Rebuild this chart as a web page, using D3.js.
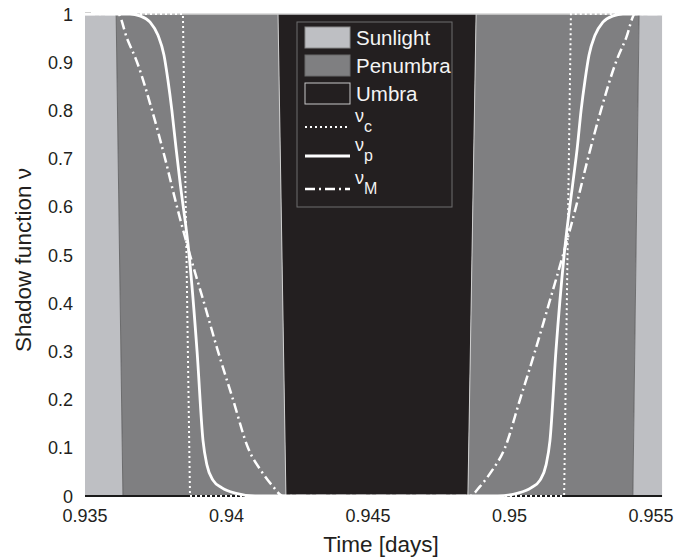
<!DOCTYPE html>
<html>
<head>
<meta charset="utf-8">
<script src="https://cdn.jsdelivr.net/npm/d3@7"></script>
<style>
  body { margin:0; background:#fff; }
  svg text { font-family: "Liberation Sans", Arial, Helvetica, sans-serif; }
</style>
</head>
<body>
<div id="chart"></div>
<script>
// shadow function during an eclipse passage: regions + three models

const xTicks = [0.935, 0.94, 0.945, 0.95, 0.955];
const xTickLabels = ['0.935', '0.94', '0.945', '0.95', '0.955'];
const yTicks = [0, 0.1, 0.2, 0.3, 0.4, 0.5, 0.6, 0.7, 0.8, 0.9, 1];
const yTickLabels = ['0', '0.1', '0.2', '0.3', '0.4', '0.5', '0.6', '0.7', '0.8', '0.9', '1'];
const xLimits = [0.935, 0.95539];

// region boundaries (time at nu=1 and at nu=0; edges lean slightly)
const regionNames = ['Sunlight', 'Penumbra', 'Umbra', 'Penumbra', 'Sunlight'];
const boundTop = [0.935, 0.93610, 0.94182, 0.94882, 0.95458, 0.95539];
const boundBottom = [0.935, 0.93634, 0.94210, 0.94853, 0.95436, 0.95539];

// nu_c : conical model (step)
const nuC = [
  [0.935, 1], [0.93846, 1], [0.93871, 0], [0.95193, 0], [0.95217, 1], [0.95539, 1]
];

// nu_p : solid curve
const nuP = [
  [0.935, 1], [0.93659, 1], [0.93694, 0.996], [0.93730, 0.983], [0.93758, 0.956],
  [0.93779, 0.915], [0.93793, 0.863], [0.93807, 0.8], [0.93822, 0.72], [0.93836, 0.65],
  [0.93868, 0.5], [0.93896, 0.3], [0.93917, 0.115], [0.93931, 0.064], [0.93952, 0.033],
  [0.93984, 0.017], [0.94030, 0.006], [0.94101, 0],
  [0.94959, 0], [0.95030, 0.006], [0.95076, 0.017], [0.95108, 0.033], [0.95129, 0.064],
  [0.95143, 0.115], [0.95164, 0.3], [0.95193, 0.5], [0.95224, 0.65], [0.95239, 0.72],
  [0.95253, 0.8], [0.95267, 0.863], [0.95281, 0.915], [0.95302, 0.956], [0.95330, 0.983],
  [0.95366, 0.996], [0.95401, 1], [0.95539, 1]
];

// nu_M : dash-dot curve
const nuM = [
  [0.935, 1], [0.93617, 1], [0.93648, 0.95], [0.93684, 0.9], [0.93737, 0.8],
  [0.93783, 0.7], [0.93825, 0.6], [0.93871, 0.5], [0.93921, 0.4], [0.93970, 0.3],
  [0.94023, 0.2], [0.94076, 0.1], [0.94125, 0.05], [0.94164, 0.02], [0.94200, 0],
  [0.94860, 0], [0.94896, 0.02], [0.94935, 0.05], [0.94984, 0.1], [0.95037, 0.2],
  [0.95090, 0.3], [0.95140, 0.4], [0.95189, 0.5], [0.95235, 0.6], [0.95277, 0.7],
  [0.95323, 0.8], [0.95376, 0.9], [0.95412, 0.95], [0.95444, 1], [0.95539, 1]
];

const W = 677, H = 560;
const margin = {left:85, top:14, bottom:64};

const svg = d3.select('#chart').append('svg').attr('width', W).attr('height', H);

const x = d3.scaleLinear().domain([0.935, 0.955]).range([margin.left, 651]);
const y = d3.scaleLinear().domain([0, 1]).range([H - margin.bottom, margin.top]);

const regionColor = {Sunlight:'#bebfc3', Penumbra:'#7f7f81', Umbra:'#231f20'};

// region patches
regionNames.forEach((name, i) => {
  const pts = [[boundTop[i],1],[boundTop[i+1],1],[boundBottom[i+1],0],[boundBottom[i],0]];
  svg.append('polygon')
    .attr('points', pts.map(p => x(p[0]) + ',' + y(p[1])).join(' '))
    .attr('fill', regionColor[name]);
});

// thin edges between regions
boundTop.slice(1, -1).forEach((bt, i) => {
  const inner = (i === 1 || i === 2);
  svg.append('line')
    .attr('x1', x(bt)).attr('y1', y(1))
    .attr('x2', x(boundBottom[i+1])).attr('y2', y(0))
    .attr('stroke', inner ? '#cfcfcf' : '#5a5a5c')
    .attr('stroke-width', inner ? 1 : 0.8);
});

// frame: light top, black bottom axis
svg.append('line').attr('x1', x(xLimits[0])).attr('x2', x(xLimits[1])).attr('y1', y(1)).attr('y2', y(1))
  .attr('stroke', '#d4d4d4').attr('stroke-width', 1.5);
svg.append('line').attr('x1', x(xLimits[0])).attr('x2', x(xLimits[1])).attr('y1', y(0)).attr('y2', y(0))
  .attr('stroke', '#1a1a1a').attr('stroke-width', 2);
svg.append('line').attr('x1', x(xLimits[0])).attr('x2', x(xLimits[0]) + 6).attr('y1', y(1) - 1).attr('y2', y(1) - 1)
  .attr('stroke', '#333').attr('stroke-width', 1.2);

// tick labels
svg.selectAll('.xtl').data(xTicks).enter().append('text')
  .attr('x', d => x(d)).attr('y', H - margin.bottom + 26)
  .attr('text-anchor', 'middle').attr('font-size', 18).attr('fill', '#231f20')
  .text((d, i) => xTickLabels[i]);
svg.selectAll('.ytl').data(yTicks).enter().append('text')
  .attr('x', margin.left - 12).attr('y', d => y(d) + 6.5)
  .attr('text-anchor', 'end').attr('font-size', 18).attr('fill', '#231f20')
  .text((d, i) => yTickLabels[i]);

// axis titles
svg.append('text').attr('x', 381).attr('y', 552).attr('text-anchor', 'middle')
  .attr('font-size', 22.5).attr('fill', '#231f20').text('Time [days]');
svg.append('text').attr('transform', 'translate(31,260) rotate(-90)').attr('text-anchor', 'middle')
  .attr('font-size', 22.5).attr('fill', '#231f20').text('Shadow function ν');

// curves
const line = d3.line().x(d => x(d[0])).y(d => y(d[1])).curve(d3.curveMonotoneX);
const lineStep = d3.line().x(d => x(d[0])).y(d => y(d[1]));

svg.append('path').datum(nuC).attr('d', lineStep).attr('fill', 'none')
  .attr('stroke', '#fff').attr('stroke-width', 2).attr('stroke-dasharray', '2,3');
svg.append('path').datum(nuM).attr('d', line).attr('fill', 'none')
  .attr('stroke', '#fff').attr('stroke-width', 2.5).attr('stroke-dasharray', '10,4,2,4');
svg.append('path').datum(nuP).attr('d', line).attr('fill', 'none')
  .attr('stroke', '#fff').attr('stroke-width', 2.8);

// legend
const lg = svg.append('g');
lg.append('rect').attr('x', 297).attr('y', 22).attr('width', 155).attr('height', 185)
  .attr('fill', '#231f20').attr('stroke', '#6e6e6e').attr('stroke-width', 1);
const swatches = [
  {name:'Sunlight', y:27, fill:regionColor.Sunlight, stroke:'#8a8a8a'},
  {name:'Penumbra', y:55, fill:regionColor.Penumbra, stroke:'#6a6a6a'},
  {name:'Umbra', y:83, fill:regionColor.Umbra, stroke:'#c8c8c8'}
];
swatches.forEach(s => {
  lg.append('rect').attr('x', 305).attr('y', s.y).attr('width', 45).attr('height', 21)
    .attr('fill', s.fill).attr('stroke', s.stroke).attr('stroke-width', 1);
  lg.append('text').attr('x', 356).attr('y', s.y + 18).attr('font-size', 20.5)
    .attr('fill', '#f4f4f4').text(s.name);
});
const lineKeys = [
  {sub:'c', y:127, dash:'2,3', w:2},
  {sub:'p', y:156, dash:null, w:2.8},
  {sub:'M', y:189, dash:'10,4,2,4', w:2.5}
];
lineKeys.forEach(k => {
  lg.append('line').attr('x1', 305).attr('x2', 350).attr('y1', k.y).attr('y2', k.y)
    .attr('stroke', '#fff').attr('stroke-width', k.w).attr('stroke-dasharray', k.dash);
  const t = lg.append('text').attr('x', 355).attr('y', k.y - 5).attr('font-size', 18).attr('fill', '#f4f4f4');
  t.append('tspan').text('ν');
  t.append('tspan').attr('dy', 10).attr('font-size', 16).text(k.sub);
});
</script>
</body>
</html>
